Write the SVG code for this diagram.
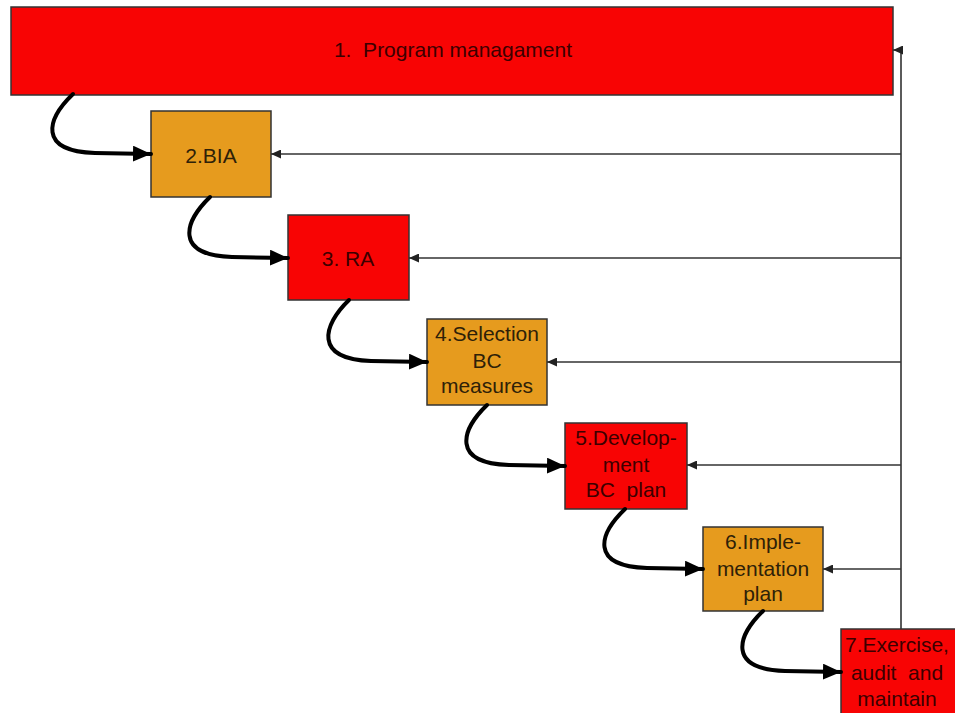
<svg xmlns="http://www.w3.org/2000/svg" width="955" height="713" viewBox="0 0 955 713">
  <style>
    .red { fill: #f80404; stroke: #333; stroke-width: 1.5; }
    .orange { fill: #e69b1e; stroke: #333; stroke-width: 1.5; }
    text { font-family: "Liberation Sans", Arial, sans-serif; font-size: 21px; text-anchor: middle; white-space: pre; }
    .on-red { fill: #3c0000; }
    .on-orange { fill: #2e2108; }
    .flow { fill: none; stroke: #000; stroke-width: 4; stroke-linecap: round; marker-end: url(#thick); }
    .back { fill: none; stroke: #333; stroke-width: 1.6; marker-end: url(#thin); }
  </style>
  <defs>
    <marker id="thick" markerUnits="userSpaceOnUse" markerWidth="18" markerHeight="16" refX="18" refY="8" orient="auto">
      <path d="M0,0 L18,8 L0,16 z" fill="#000"/>
    </marker>
    <marker id="thin" markerUnits="userSpaceOnUse" markerWidth="10" markerHeight="9" refX="10" refY="4.5" orient="auto">
      <path d="M0,0 L10,4.5 L0,9 z" fill="#222"/>
    </marker>
  </defs>
  <rect width="955" height="713" fill="#fff"/>

  <g id="step1">
    <rect class="red" x="11" y="7" width="882" height="88"/>
    <text class="on-red" x="453" y="57">1.  Program managament</text>
  </g>
  <g id="step2">
    <rect class="orange" x="151" y="111" width="120" height="86"/>
    <text class="on-orange" x="211" y="163">2.BIA</text>
  </g>
  <g id="step3">
    <rect class="red" x="288" y="215" width="121" height="85"/>
    <text class="on-red" x="348" y="266">3. RA</text>
  </g>
  <g id="step4">
    <rect class="orange" x="427" y="319" width="120" height="86"/>
    <text class="on-orange" x="487" y="341">4.Selection</text>
    <text class="on-orange" x="487" y="368">BC</text>
    <text class="on-orange" x="487" y="393">measures</text>
  </g>
  <g id="step5">
    <rect class="red" x="565" y="423" width="122" height="86"/>
    <text class="on-red" x="626" y="445">5.Develop-</text>
    <text class="on-red" x="626" y="472">ment</text>
    <text class="on-red" x="626" y="497">BC  plan</text>
  </g>
  <g id="step6">
    <rect class="orange" x="703" y="527" width="120" height="84"/>
    <text class="on-orange" x="763" y="549">6.Imple-</text>
    <text class="on-orange" x="763" y="576">mentation</text>
    <text class="on-orange" x="763" y="601">plan</text>
  </g>
  <g id="step7">
    <rect class="red" x="841" y="629" width="130" height="100"/>
    <text class="on-red" x="897" y="652">7.Exercise,</text>
    <text class="on-red" x="897" y="680">audit  and</text>
    <text class="on-red" x="897" y="706">maintain</text>
  </g>

  <g id="connectors">
    <!-- forward flow between consecutive steps -->
    <path class="flow" d="M73,94 C47,119 37,151 95,153 L151,154"/>
    <path class="flow" d="M210,197 C184,222 174,255 232,257 L288,258"/>
    <path class="flow" d="M349,300 C323,325 313,359 371,361 L427,362"/>
    <path class="flow" d="M487,405 C461,430 451,463 509,465 L565,466"/>
    <path class="flow" d="M625,509 C599,534 589,566 647,568 L703,569"/>
    <path class="flow" d="M763,611 C737,636 727,669 785,671 L841,672"/>
    <!-- feedback from step 7 to all earlier steps -->
    <path class="back" d="M901,629 L901,50 L893,50"/>
    <path class="back" d="M901,154 L271,154"/>
    <path class="back" d="M901,258 L409,258"/>
    <path class="back" d="M901,362 L547,362"/>
    <path class="back" d="M901,465 L687,465"/>
    <path class="back" d="M901,569 L823,569"/>
  </g>
</svg>
